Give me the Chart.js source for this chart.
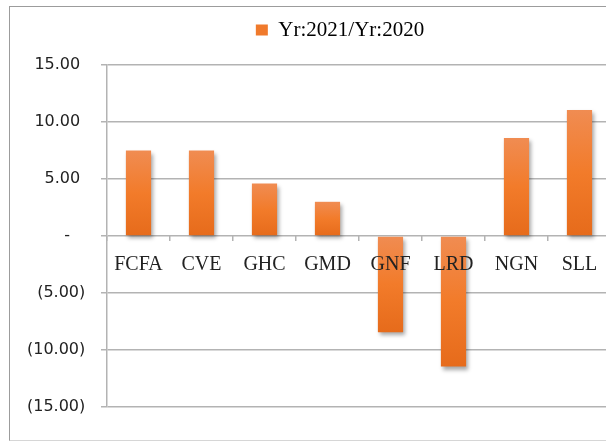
<!DOCTYPE html>
<html>
<head>
<meta charset="utf-8">
<script src="https://cdn.jsdelivr.net/npm/chart.js@4.4.0/dist/chart.umd.min.js"></script>
<style>
  html, body { margin: 0; padding: 0; background: #fff; overflow: hidden; }
  #frame { position: absolute; left: 9px; top: 6px; width: 700px; height: 433px;
           border: 1px solid #9c9c9c; border-bottom-color: #d6d6d6; }
  #wrap { position: absolute; left: 0; top: 0; width: 612px; height: 441px; }
</style>
</head>
<body>
<div id="frame"></div>
<div id="wrap"><canvas id="chart"></canvas></div>
<script>
// data
const currencies = ['FCFA', 'CVE', 'GHC', 'GMD', 'GNF', 'LRD', 'NGN', 'SLL'];
const changeRatio = [7.5, 7.5, 4.6, 3.0, -8.45, -11.45, 8.6, 11.05];
const seriesLabel = 'Yr:2021/Yr:2020';
const yTicks = [-15, -10, -5, 0, 5, 10, 15];

// accounting style labels: 15.00 / - / (5.00)
function fmt(v) {
  if (v === 0) return '-   ';
  if (v < 0) return '(' + Math.abs(v).toFixed(2) + ')';
  return v.toFixed(2) + ' ';
}

// orange bars, lighter at the top
function barFill(c) {
  const chart = c.chart;
  const y = chart.scales.y;
  if (!chart.chartArea || !y) return '#f07a28';
  const v = c.raw;
  const top = y.getPixelForValue(Math.max(v, 0));
  const bottom = y.getPixelForValue(Math.min(v, 0));
  const g = chart.ctx.createLinearGradient(0, top, 0, bottom);
  g.addColorStop(0, '#f08c52');
  g.addColorStop(0.5, '#f27b2a');
  g.addColorStop(1, '#e66b1b');
  return g;
}

const barShadow = {
  id: 'barShadow',
  beforeDatasetsDraw(chart) {
    const ctx = chart.ctx;
    ctx.save();
    ctx.shadowColor = 'rgba(0,0,0,0.35)';
    ctx.shadowBlur = 4;
    ctx.shadowOffsetX = 2;
    ctx.shadowOffsetY = 3;
  },
  afterDatasetsDraw(chart) {
    chart.ctx.restore();
  }
};

const gridGray = '#b3b3b3';

new Chart(document.getElementById('chart'), {
  type: 'bar',
  data: {
    labels: currencies,
    datasets: [{
      label: seriesLabel,
      data: changeRatio,
      backgroundColor: barFill,
      borderWidth: 0,
      barPercentage: 0.4,
      categoryPercentage: 1
    }]
  },
  options: {
    responsive: true,
    maintainAspectRatio: false,
    animation: false,
    layout: { padding: { top: 9.5, left: 69, right: 1, bottom: 34 } },
    plugins: {
      tooltip: { enabled: false },
      legend: {
        position: 'top',
        labels: {
          color: '#222',
          font: { family: 'Liberation Serif', size: 21 },
          boxWidth: 12,
          boxHeight: 11,
          padding: 10,
          generateLabels(chart) {
            return [{ text: seriesLabel, fillStyle: '#f07a2c', strokeStyle: '#f07a2c',
                      lineWidth: 0, datasetIndex: 0 }];
          }
        }
      },
      // empty title used only as a gap between legend and plot
      title: {
        display: true,
        text: '',
        weight: 500,
        padding: 0,
        font: { size: 14.5, lineHeight: 1 }
      }
    },
    scales: {
      x: {
        position: { y: 0 },
        grid: { drawOnChartArea: false, drawTicks: true, tickLength: 5, color: gridGray, lineWidth: 1.5 },
        border: { display: false },
        ticks: {
          z: 1,
          color: '#222',
          padding: 12,
          maxRotation: 0,
          autoSkip: false,
          font: { family: 'Liberation Serif', size: 20 }
        }
      },
      y: {
        min: -15,
        max: 15,
        afterFit(s) { s.width = 38; },
        afterBuildTicks(s) { s.ticks = yTicks.map(v => ({ value: v })); },
        grid: { color: gridGray, lineWidth: 1.5, tickLength: 6 },
        border: { display: true, color: gridGray, width: 1.5 },
        ticks: {
          color: '#222',
          mirror: true,
          crossAlign: 'far',
          padding: -80,
          font: { family: 'DejaVu Sans', size: 16 },
          callback: v => fmt(v)
        }
      }
    }
  },
  plugins: [barShadow]
});
</script>
</body>
</html>
